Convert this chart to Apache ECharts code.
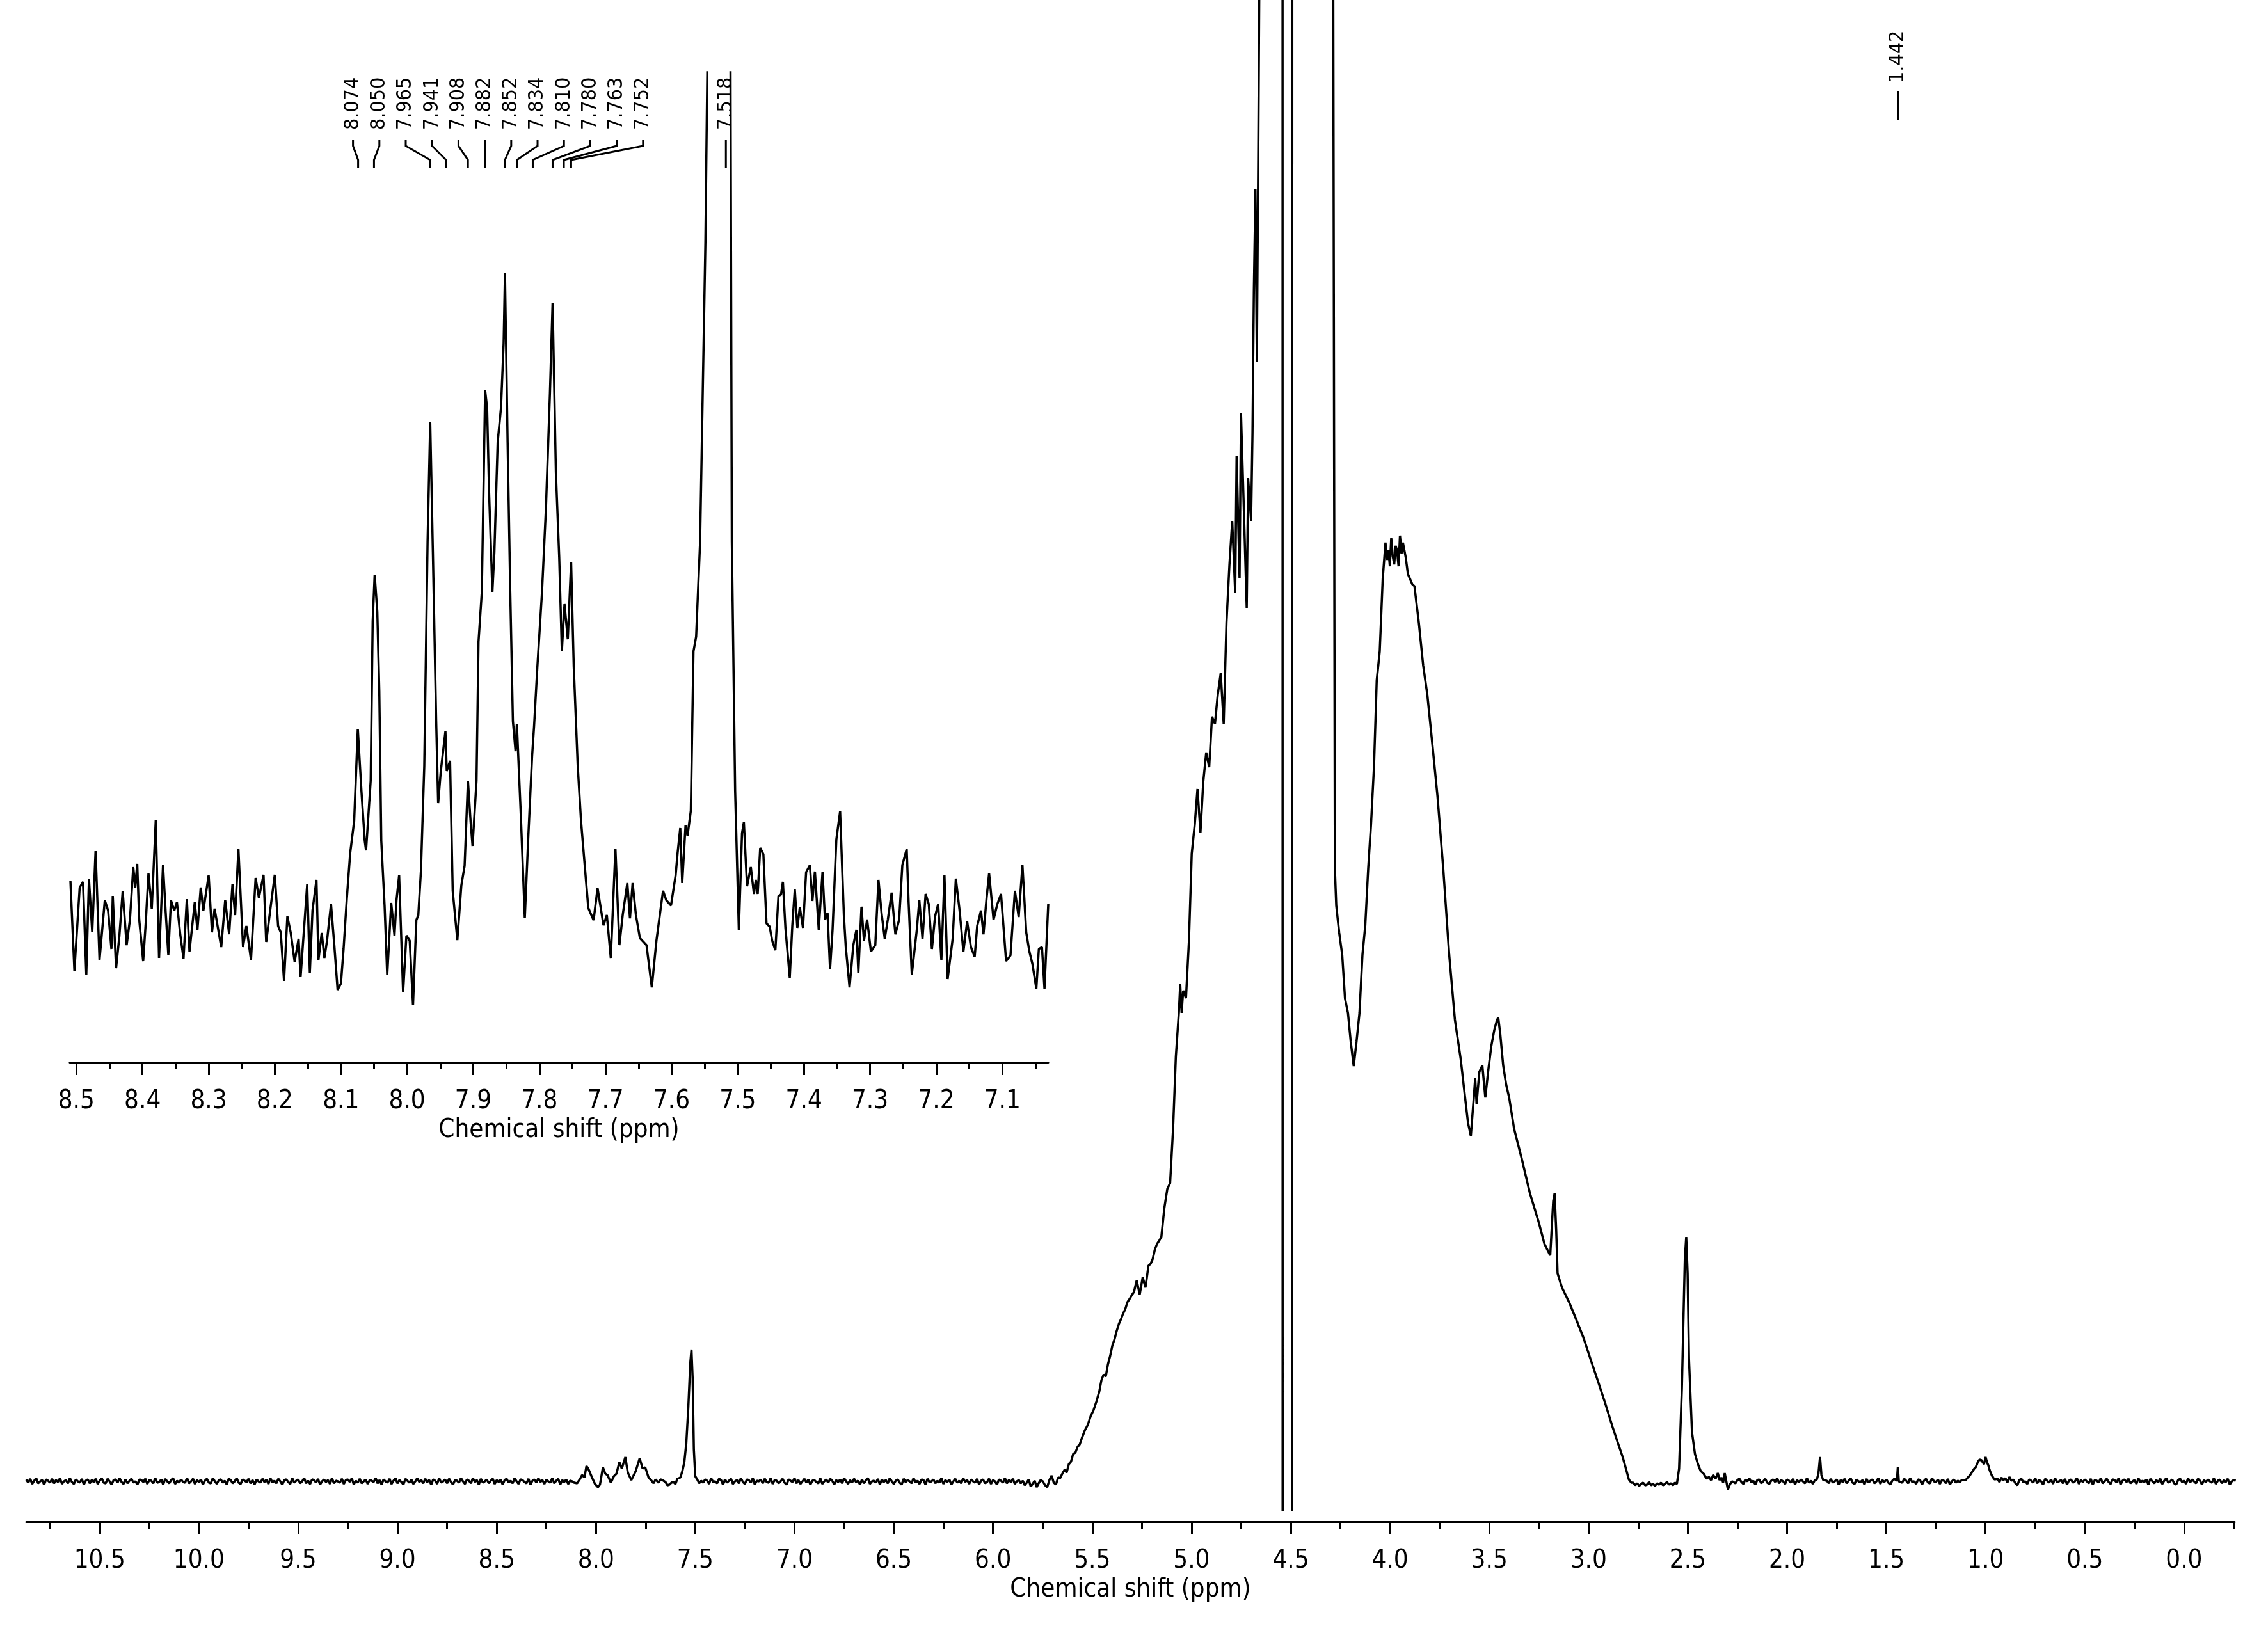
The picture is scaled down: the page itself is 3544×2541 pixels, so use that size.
<!DOCTYPE html>
<html>
<head>
<meta charset="utf-8">
<title>1H NMR spectrum</title>
<script src="https://cdn.jsdelivr.net/npm/echarts@6/dist/echarts.min.js"></script>
<style>
  html, body { margin: 0; padding: 0; background: #fff; }
  #chart { width: 3544px; height: 2541px; }
</style>
</head>
<body>
<div id="chart"></div>
<script>
// ---- axis ticks (ppm) ----
const mainTicks = [0, 0.5, 1, 1.5, 2, 2.5, 3, 3.5, 4, 4.5, 5, 5.5, 6, 6.5, 7, 7.5, 8, 8.5, 9, 9.5, 10, 10.5];
const mainMinorTicks = [-0.25, 0.25, 0.75, 1.25, 1.75, 2.25, 2.75, 3.25, 3.75, 4.25, 4.75, 5.25, 5.75,
  6.25, 6.75, 7.25, 7.75, 8.25, 8.75, 9.25, 9.75, 10.25, 10.75];
const insetTicks = [7.1, 7.2, 7.3, 7.4, 7.5, 7.6, 7.7, 7.8, 7.9, 8.0, 8.1, 8.2, 8.3, 8.4, 8.5];
const insetMinorTicks = [7.05, 7.15, 7.25, 7.35, 7.45, 7.55, 7.65, 7.75, 7.85, 7.95, 8.05, 8.15, 8.25, 8.35, 8.45];

// ---- picked peaks ----
const insetPeakLabels = [8.074, 8.050, 7.965, 7.941, 7.908, 7.882, 7.852, 7.834, 7.810, 7.780, 7.763, 7.752, 7.518];
const mainPeakLabels = [1.442];

// ---- full spectrum: baseline runs (intensity every 0.01 ppm from a start shift) ----
const noiseHigh = [3,-2,4,-4,1,5,-3,0,2,-5,3,1,-2,4,-3,2,-1,5,-4,0,
  2,-3,5,-1,-4,3,0,-2,4,-5,1,3,-3,2,-1,4,-4,1,5,-2,
  -3,4,0,-5,2,3,-2,5,-1,-4,3,-3,1,4,-2,0,-5,3,2,-1,
  4,-4,2,1,-3,5,-2,-1,3,-5,4,0,-3,2,5,-4,1,-2,3,-1,
  -2,5,-3,0,4,-4,2,-1,3,-5,1,4,-2,-3,5,0,-4,2,3,-2,
  1,-5,4,2,-3,0,5,-2,-4,3,1,-1,4,-3,2,-5,3,0,-2,4,
  -1,3,-4,5,-2,1,-3,4,0,-5,2,3,-1,-4,5,-2,1,3,-3,0,
  5,-3,1,-4,3,2,-2,4,-5,0,3,-1,2,-4,5,-3,1,0,-2,4,
  -4,2,3,-1,5,-5,1,-2,4,-3,0,3,-4,2,1,-1,5,-3,2,-5,
  3,0,-2,4,-4,1,5,-3,2,-1,-5,4,1,-2,3,-4,0,5,-1,2,
  -3,4,-1,2,-5,3,1,-4,5,-2,0,3,-3,4,-1,-5,2,1,-2,5,
  0,-4,3,1,-3,5,-1,2,-5,4,-2,0,3,-3,1,4,-4,2,-1,3,
  -5,2,4,-2,1,-3,5,0,-4,3,2,-1,-3,4,-5,1,3,-2,5,-1,
  2,-4,3,0,-2,5,-3,1,4,-5,2,-1,3,-4,1,0,-2];
const noiseMid = [-2,3,1,-4,5,-1,0,-3,4,2,-5,3,-2,1,4,-4,0,2,-3,5,
  -1,-4,3,2,-2,5,-5,1,0,3,-3,4,-1,-2,5,-4,2,1,-3,0,
  4,-2,-5,3,1,-1,5,-3,2,-4,0,4,-2,3,-5,1,2,-1,-3,5,
  -4,0,3,-2,4,1,-5,2,-1,3,-3,5,0,-4,2,-2,4,-1,1,-5,
  3,-3,2,5,-4,0,1,-2,4,-5,3,-1,2,-3,5,0,-4,1,3,-2,
  -5,4,-1,2,0,-3,5,-2,1,-4,3,2,-5,4,-1,0,3,-3,1,-2,
  5,-4,2,-1,3,-5,0,4,-2,1,-3,5,-1,2,-4,3,0,-2,4,-5,
  1,3,-3,-1,4,-4,2,0,-5,3,1,-2,5,-3,2,-1,4,-4,0,2,
  -3,1,-6,-2,3,-8,-4,1,-9,-3,2];
const noiseLowA = [-3,2,4,-1,-4,3,0,5,-2,1,-5,2,3,-3,0,4,-2,-4,1,3,
  -1,5,-3,2,0,-4,3,1,-2,4,-5,2,-1,3,0,-3,5,-2,1,-4,2];
const noiseLowB = [1,-3,4,-2,0,3,-5,2,-1,4,-3,1,5,-2,-4,3,0,-1,2,-5,
  4,-2,1,3,-3,0,5,-4,2,-1,3,-2,-5,1,4];
const noiseLowC = [-2,4,1,-3,5,-1,0,-4,3,2,-5,1,4,-2,-3,5,0,-1,3,-4,
  2,1,-3,4,-5,0,3,-2,1,-1,2];
const noiseLowD = [4,-1,6,2,5,-2,7,1,3,-3,-6,2,4,-1,0,-4,3,1,-2,5,
  -3,2,0,-5,4,1,-2,3,-4,5,-1,0,2,-3,4,-5,1,3,-2,0,
  5,-4,2,-1,3,0,-3,4,-5,2,1,-2,5,-3,0,4,-1,-4,3,2,
  -2,5,-5,1,3,-1,4,-3,0,2,-4,5,-2,1,-1,3,-5,4,0,-3,
  2,-1,4,-4,1,5,-2,0,3,-3,-5,2,4,-1,1,-4,5,-2,3,0,
  -3,4,1,-5,2,-1,3,0,-2,5,-4,1,3,-3,2,-1,4,-5,0,2,1];

// ---- full spectrum: signals [ppm, intensity] ----
const aromaticMain = [[8.095,-3],[8.08,4],[8.07,10],[8.058,6],[8.048,24],[8.039,20],[8.02,6],[8.005,-4],
  [7.99,-9],[7.98,-5],[7.965,22],[7.953,12],[7.942,10],[7.925,-2],[7.91,8],[7.897,12],[7.882,30],[7.87,20],
  [7.852,38],[7.84,14],[7.822,2],[7.80,16],[7.78,36],[7.765,20],[7.752,22],[7.735,6],[7.72,1],[7.71,-3],[7.70,3],
  [7.685,-2],[7.675,3],[7.665,2],[7.65,-1],[7.64,-6],[7.63,-5],[7.62,-2],[7.61,-1],[7.60,-4],[7.59,4],[7.575,6],
  [7.565,16],[7.555,30],[7.545,60],[7.535,115],[7.525,185],[7.519,206],[7.513,160],[7.507,50],[7.50,8],
  [7.49,3],[7.48,-3],[7.47,1]];
const broadMain = [[5.749,0],[5.738,-6],[5.727,-9],[5.716,2],[5.705,9],[5.694,-2],[5.683,-5],[5.672,6],[5.662,5],
  [5.651,12],[5.640,18],[5.629,14],[5.618,27],[5.607,31],[5.596,43],[5.585,45],[5.574,54],[5.563,58],[5.552,68],
  [5.537,80],[5.523,88],[5.508,102],[5.494,111],[5.480,124],[5.465,140],[5.454,158],[5.443,167],[5.432,164],
  [5.421,183],[5.410,196],[5.399,212],[5.388,222],[5.377,235],[5.366,246],[5.356,253],[5.345,262],[5.334,269],
  [5.323,280],[5.312,285],[5.301,291],[5.290,296],[5.276,314],[5.261,292],[5.246,319],[5.232,303],[5.217,337],
  [5.206,340],[5.195,348],[5.185,362],[5.174,371],[5.163,376],[5.152,382],[5.137,427],[5.122,457],[5.108,466],
  [5.093,551],[5.079,664],[5.064,732],[5.057,777],[5.050,732],[5.042,767],[5.028,755],[5.013,845],[4.999,981],
  [4.984,1026],[4.970,1082],[4.955,1014],[4.941,1093],[4.926,1139],[4.911,1116],[4.897,1195],[4.882,1184],
  [4.868,1229],[4.853,1263],[4.838,1184],[4.824,1342],[4.809,1433],[4.795,1501],[4.780,1388],[4.773,1602],
  [4.758,1411],[4.751,1670],[4.737,1524],[4.722,1365],[4.715,1568],[4.700,1501],[4.693,1637],[4.686,1862],
  [4.678,2020],[4.671,1749],[4.664,2066],[4.657,2420],[4.62,3000],[4.58,3000],[4.5415,2600],[4.541,-46],
  [4.517,'-'],[4.493,-46],[4.4925,2600],[4.40,3000],[4.30,3000],[4.287,2500],[4.278,958],[4.271,900],
  [4.256,857],[4.241,823],[4.227,755],[4.212,732],[4.198,687],[4.183,649],[4.169,687],[4.154,732],[4.139,823],
  [4.125,868],[4.110,958],[4.096,1026],[4.081,1116],[4.067,1252],[4.052,1297],[4.037,1410],[4.023,1467],
  [4.015,1440],[4.008,1455],[4.001,1430],[3.994,1474],[3.986,1445],[3.979,1433],[3.972,1462],[3.965,1455],
  [3.957,1430],[3.950,1478],[3.942,1450],[3.935,1467],[3.921,1444],[3.910,1418],[3.899,1410],[3.888,1402],
  [3.877,1399],[3.855,1342],[3.833,1275],[3.812,1229],[3.790,1162],[3.761,1071],[3.732,958],[3.702,823],
  [3.673,721],[3.644,660],[3.622,600],[3.607,560],[3.593,540],[3.578,600],[3.571,630],[3.564,590],[3.550,640],
  [3.535,650],[3.520,600],[3.506,640],[3.490,680],[3.475,705],[3.462,720],[3.455,725],[3.445,700],[3.430,650],
  [3.415,620],[3.400,600],[3.375,551],[3.338,506],[3.295,450],[3.251,405],[3.222,371],[3.193,353],[3.178,438],
  [3.171,450],[3.163,393],[3.156,325],[3.134,303],[3.098,280],[3.062,253],[3.025,224],[2.989,190],[2.952,156],
  [2.916,122],[2.879,85],[2.850,58],[2.828,38],[2.810,18],[2.797,3],[2.785,-2]];
const dmsoMain = [[2.775,-2],[2.765,-6],[2.755,-3],[2.745,-7],[2.735,-4],[2.725,-2],[2.715,-6],[2.705,-5],
  [2.695,-1],[2.685,-6],[2.675,-4],[2.665,-7],[2.655,-3],[2.645,-5],[2.635,-2],[2.625,-6],[2.615,-4],[2.605,-1],
  [2.595,-5],[2.585,-3],[2.575,-6],[2.565,-2],[2.555,-4],[2.544,20],[2.530,145],[2.515,348],[2.508,382],
  [2.501,325],[2.494,190],[2.479,77],[2.464,43],[2.449,27],[2.435,16],[2.420,12],[2.405,4],[2.394,7],[2.383,2],
  [2.372,10],[2.360,4],[2.349,13],[2.340,2],[2.330,6],[2.322,-2],[2.314,13],[2.298,-13],[2.287,-4],[2.276,0]];
const smallMain = [[1.85,3],[1.842,12],[1.834,38],[1.827,10],[1.818,2],
  [1.447,1],[1.442,23],[1.437,0],
  [1.10,2],[1.09,6],[1.08,9],[1.072,13],[1.065,16],[1.057,20],[1.05,22],[1.043,27],[1.037,32],[1.03,34],
  [1.025,36],[1.02,33],[1.015,30],[1.008,27],[1.0,38],[0.993,30],[0.986,25],[0.98,18],[0.975,14],[0.968,9],
  [0.962,6],[0.955,3],[0.95,2]];

// ---- inset 8.5 - 7.0 ppm [ppm, intensity] ----
const insetLeft = [[8.509,69],[8.503,-71],[8.495,59],[8.490,68],[8.485,-77],[8.481,73],[8.476,-11],[8.471,116],
  [8.465,-54],[8.457,39],[8.452,23],[8.447,-37],[8.445,46],[8.440,-67],[8.435,-17],[8.430,53],[8.424,-31],
  [8.419,9],[8.414,91],[8.411,59],[8.408,96],[8.405,9],[8.399,-56],[8.395,6],[8.391,81],[8.386,26],[8.380,164],
  [8.375,-51],[8.369,94],[8.365,21],[8.361,-46],[8.357,39],[8.352,23],[8.348,36],[8.343,-14],[8.338,-52],
  [8.333,41],[8.329,-41],[8.321,36],[8.317,-7],[8.312,59],[8.308,23],[8.300,78],[8.295,-11],[8.291,26],
  [8.286,-4],[8.281,-34],[8.275,39],[8.269,-14],[8.264,64],[8.260,16],[8.255,119],[8.248,-34],[8.243,-1],
  [8.236,-54],[8.229,74],[8.224,43],[8.217,79],[8.213,-26],[8.207,23],[8.200,79],[8.195,-1],[8.191,-11],
  [8.186,-87],[8.181,14],[8.176,-11],[8.170,-57],[8.164,-21],[8.161,-81],[8.151,64],[8.147,-74],[8.143,23],
  [8.137,71],[8.134,-54],[8.129,-12],[8.125,-51],[8.121,-24],[8.115,33],[8.110,-31],[8.105,-101],[8.100,-91],
  [8.096,-37],[8.091,43],[8.086,113],[8.080,163]];
const insetPeaks = [[8.0745,307],[8.069,210],[8.064,132],[8.062,117],[8.055,226],[8.052,475],[8.049,548],
  [8.045,490],[8.042,366],[8.039,132],[8.034,31],[8.030,-78],[8.024,35],[8.019,-16],[8.016,39],[8.012,78],
  [8.006,-105],[8.001,-16],[7.996,-24],[7.991,-125],[7.986,8],[7.983,16],[7.979,86],[7.974,249],[7.969,599],
  [7.965,786],[7.961,584],[7.956,319],[7.953,191],[7.949,241],[7.942,303],[7.940,241],[7.935,257],[7.931,54],
  [7.924,-23],[7.918,62],[7.913,93],[7.908,226],[7.904,163],[7.901,124],[7.895,226],[7.892,443],[7.887,521],
  [7.882,836],[7.879,809],[7.876,677],[7.871,521],[7.868,583],[7.863,755],[7.858,809],[7.854,910],[7.852,1019],
  [7.848,755],[7.844,521],[7.840,319],[7.836,272],[7.834,315],[7.828,171],[7.822,11],[7.817,132],[7.811,264],
  [7.808,311],[7.803,404],[7.796,521],[7.790,653],[7.784,832],[7.780,973],[7.775,708],[7.770,576],[7.766,428],
  [7.762,502],[7.757,447],[7.752,568],[7.748,404],[7.742,249],[7.737,163],[7.732,101],[7.726,27],[7.718,8],
  [7.712,58],[7.703,0],[7.698,16],[7.692,-51],[7.685,120],[7.679,-31],[7.674,16],[7.667,66],[7.663,11],
  [7.659,66],[7.654,16],[7.648,-20],[7.638,-31],[7.630,-97],[7.623,-24],[7.617,23],[7.613,54],[7.608,39],
  [7.601,31],[7.594,78],[7.591,113],[7.587,152],[7.584,66],[7.579,156],[7.576,140],[7.571,179],[7.567,428],
  [7.563,451],[7.557,599],[7.553,833],[7.549,1066],[7.546,1340],[7.535,3500],[7.518,4880],[7.514,3500],
  [7.511,1340],[7.509,599],[7.506,366],[7.504,210]];
const insetRight = [[7.4984,-8],[7.4936,144],[7.4908,161],[7.4860,61],[7.4803,91],[7.4756,49],[7.4727,71],
  [7.4699,49],[7.4661,121],[7.4613,111],[7.4566,3],[7.4518,-2],[7.4480,-24],[7.4432,-39],[7.4385,46],
  [7.4347,48],[7.4318,68],[7.4280,-4],[7.4214,-82],[7.4176,-1],[7.4138,56],[7.4100,-4],[7.4062,28],
  [7.4014,-4],[7.3967,83],[7.3910,94],[7.3872,38],[7.3834,84],[7.3776,-7],[7.3719,83],[7.3681,9],[7.3643,19],
  [7.3605,-69],[7.3567,-7],[7.3510,134],[7.3453,178],[7.3396,16],[7.3367,-34],[7.3310,-97],[7.3253,-31],
  [7.3206,-7],[7.3177,-74],[7.3130,29],[7.3092,-24],[7.3044,9],[7.2987,-41],[7.2921,-31],[7.2873,71],
  [7.2826,19],[7.2778,-21],[7.2731,9],[7.2674,51],[7.2617,-14],[7.2560,9],[7.2512,94],[7.2446,119],
  [7.2417,36],[7.2369,-77],[7.2293,-7],[7.2255,39],[7.2207,-21],[7.2160,49],[7.2112,33],[7.2065,-37],
  [7.2017,14],[7.1970,33],[7.1922,-54],[7.1875,78],[7.1827,-84],[7.1751,-21],[7.1703,73],[7.1646,23],
  [7.1589,-41],[7.1532,6],[7.1475,-34],[7.1418,-49],[7.1380,-1],[7.1323,23],[7.1285,-14],[7.1238,43],
  [7.1200,81],[7.1133,9],[7.1076,33],[7.1020,49],[7.0943,-56],[7.0877,-47],[7.0810,54],[7.0753,13],
  [7.0696,94],[7.0639,-11],[7.0591,-41],[7.0544,-61],[7.0486,-99],[7.0448,-37],[7.0401,-34],[7.0363,-99],
  [7.0306,33]];

// build series data
function run(start, values) {
  return values.map((v, i) => [+(start - i * 0.01).toFixed(3), v]);
}
const mainData = [].concat(
  run(10.87, noiseHigh), aromaticMain, run(7.46, noiseMid), broadMain, dmsoMain,
  run(2.26, noiseLowA), run(1.80, noiseLowB), run(1.42, noiseLowC), run(0.94, noiseLowD), smallMain
).sort((a, b) => b[0] - a[0]);
const insetData = [].concat(insetLeft, insetPeaks, insetRight);

const FONT = '"DejaVu Sans Condensed", "DejaVu Sans", sans-serif';
const INK = '#000';

function xAxisPair(grid, min, max, major, minor) {
  return [{
    type: 'value', gridIndex: grid, min: min, max: max, inverse: true, position: 'bottom',
    name: 'Chemical shift (ppm)', nameLocation: 'middle', nameGap: 84,
    nameTextStyle: { fontSize: 40, fontFamily: FONT, color: INK },
    axisLine: { show: true, onZero: false, lineStyle: { color: INK, width: 3 } },
    axisTick: { show: true, length: 20, customValues: major, lineStyle: { color: INK, width: 3 } },
    axisLabel: { show: true, customValues: major, margin: 42, fontSize: 40, fontFamily: FONT, color: INK,
      formatter: v => v.toFixed(1) },
    splitLine: { show: false }
  }, {
    type: 'value', gridIndex: grid, min: min, max: max, inverse: true, position: 'bottom',
    axisLine: { show: false, onZero: false },
    axisTick: { show: true, length: 11, customValues: minor, lineStyle: { color: INK, width: 3 } },
    axisLabel: { show: false },
    splitLine: { show: false }
  }];
}

function labelText(x, y, ppm) {
  return {
    type: 'text', x: x, y: y, rotation: Math.PI / 2, silent: true,
    style: { text: ppm.toFixed(3), fontSize: 32, fontFamily: FONT, fill: INK, align: 'left', verticalAlign: 'middle' }
  };
}

const clusterSize = 12;
function renderInsetLabels(params, api) {
  const ppm = api.value(0);
  const peakX = api.coord([ppm, 0])[0];
  let labelX = peakX;
  if (params.dataIndex < clusterSize) {
    const firstX = api.coord([insetPeakLabels[0], 0])[0];
    labelX = firstX - 8 + params.dataIndex * 41.2;
  }
  return {
    type: 'group',
    children: [
      labelText(labelX, 203, ppm),
      { type: 'polyline', silent: true,
        shape: { points: [[labelX, 219], [labelX, 228], [peakX, 250], [peakX, 263]] },
        style: { stroke: INK, lineWidth: 3, fill: null } }
    ]
  };
}

function renderMainLabels(params, api) {
  const ppm = api.value(0);
  const x = api.coord([ppm, 0])[0];
  return {
    type: 'group',
    children: [
      labelText(x, 130, ppm),
      { type: 'line', silent: true, shape: { x1: x, y1: 142, x2: x, y2: 187 },
        style: { stroke: INK, lineWidth: 3 } }
    ]
  };
}

const chart = echarts.init(document.getElementById('chart'), null, { renderer: 'canvas' });
chart.setOption({
  animation: false,
  backgroundColor: '#fff',
  grid: [
    { left: 41, right: 52, top: 0, bottom: 163 },
    { left: 109, right: 1906, top: 113, bottom: 881 }
  ],
  xAxis: [].concat(
    xAxisPair(0, -0.255, 10.87, mainTicks, mainMinorTicks),
    xAxisPair(1, 7.0306, 8.51, insetTicks, insetMinorTicks)
  ),
  yAxis: [
    { type: 'value', gridIndex: 0, min: -63, max: 2315, show: false, splitLine: { show: false } },
    { type: 'value', gridIndex: 1, min: -214, max: 1333, show: false, splitLine: { show: false } }
  ],
  series: [
    { type: 'line', xAxisIndex: 0, yAxisIndex: 0, data: mainData, showSymbol: false, clip: true,
      connectNulls: false, lineStyle: { color: INK, width: 3.5 } },
    { type: 'line', xAxisIndex: 2, yAxisIndex: 1, data: insetData, showSymbol: false, clip: true,
      lineStyle: { color: INK, width: 3.5 } },
    { type: 'custom', xAxisIndex: 2, yAxisIndex: 1, data: insetPeakLabels.map(p => [p, 0]),
      renderItem: renderInsetLabels, silent: true },
    { type: 'custom', xAxisIndex: 0, yAxisIndex: 0, data: mainPeakLabels.map(p => [p, 0]),
      renderItem: renderMainLabels, silent: true }
  ]
});
</script>
</body>
</html>
